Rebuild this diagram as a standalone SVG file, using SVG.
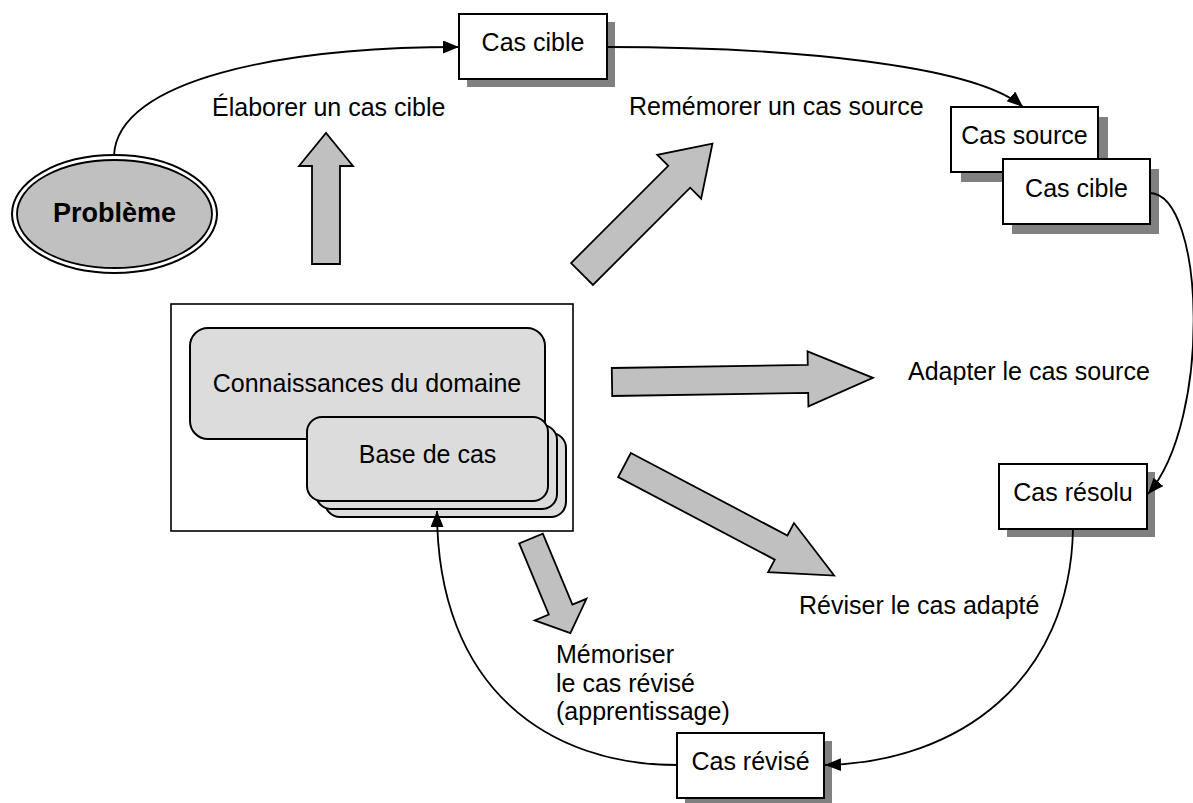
<svg xmlns="http://www.w3.org/2000/svg" width="1193" height="803" viewBox="0 0 1193 803">
  <style>
    text { font-family: "Liberation Sans", Arial, sans-serif; font-size: 25px; fill: #000; }
    .mid { text-anchor: middle; }
    .box { fill: #fff; stroke: #000; stroke-width: 2; }
    .shadow { fill: #808080; stroke: none; }
    .soft { fill: #dcdcdc; stroke: #000; stroke-width: 2; }
    .block { fill: #c0c0c0; stroke: #000; stroke-width: 1.8; stroke-linejoin: miter; }
    .link { fill: none; stroke: #000; stroke-width: 1.8; marker-end: url(#head); }
  </style>
  <defs>
    <marker id="head" markerUnits="userSpaceOnUse" markerWidth="18" markerHeight="14" refX="16" refY="6.5" orient="auto">
      <path d="M0,0 L16,6.5 L0,13 Z" fill="#000"/>
    </marker>
  </defs>
  <rect width="1193" height="803" fill="#fff"/>

  <!-- starting problem -->
  <g id="probleme">
    <ellipse cx="114.5" cy="214" rx="102.5" ry="59" fill="#fff" stroke="#000" stroke-width="2"/>
    <ellipse cx="114.5" cy="214" rx="97.5" ry="54" fill="#c0c0c0" stroke="#000" stroke-width="1.8"/>
    <text class="mid" x="114.5" y="222" style="font-weight:bold;font-size:27px">Problème</text>
  </g>

  <!-- knowledge container -->
  <g id="connaissances">
    <rect x="171" y="304" width="402" height="227" fill="#fff" stroke="#000" stroke-width="1.6"/>
    <rect class="soft" x="190" y="328" width="355" height="111" rx="18"/>
    <text class="mid" x="367" y="392">Connaissances du domaine</text>
  </g>

  <g id="base-de-cas">
    <rect class="soft" x="325" y="433" width="241" height="84" rx="15"/>
    <rect class="soft" x="316" y="425" width="241" height="84" rx="15"/>
    <rect class="soft" x="307" y="417" width="241" height="84" rx="15"/>
    <text class="mid" x="427.5" y="463">Base de cas</text>
  </g>

  <!-- case boxes -->
  <g id="cas-cible">
    <rect class="shadow" x="467" y="22" width="148" height="65"/>
    <rect class="box" x="459" y="14" width="148" height="65"/>
    <text class="mid" x="533" y="51">Cas cible</text>
  </g>

  <g id="cas-source">
    <rect class="shadow" x="961" y="117" width="147" height="65"/>
    <rect class="box" x="951" y="107" width="147" height="65"/>
    <text class="mid" x="1024.5" y="144">Cas source</text>
  </g>

  <g id="cas-cible-2">
    <rect class="shadow" x="1012" y="169" width="147" height="65"/>
    <rect class="box" x="1003" y="159" width="147" height="65"/>
    <text class="mid" x="1076.5" y="197">Cas cible</text>
  </g>

  <g id="cas-resolu">
    <rect class="shadow" x="1007" y="472" width="148" height="65"/>
    <rect class="box" x="999" y="464" width="148" height="65"/>
    <text class="mid" x="1073" y="501">Cas résolu</text>
  </g>

  <g id="cas-revise">
    <rect class="shadow" x="685" y="741" width="147" height="65"/>
    <rect class="box" x="677" y="733" width="147" height="65"/>
    <text class="mid" x="750.5" y="770">Cas révisé</text>
  </g>

  <!-- block arrows for the reasoning steps -->
  <g id="etapes">
    <polygon class="block" transform="translate(326,264) rotate(-90)" points="0,-14 98,-14 98,-27 131,0 98,27 98,14 0,14"/>
    <polygon class="block" transform="translate(582,274) rotate(-45)" points="0,-15.5 137.5,-15.5 137.5,-31 184.5,0 137.5,31 137.5,15.5 0,15.5"/>
    <polygon class="block" transform="translate(612,382) rotate(-0.9)" points="0,-14 196,-14 196,-27.5 261,0 196,27.5 196,14 0,14"/>
    <polygon class="block" transform="translate(624.5,465) rotate(27.8)" points="0,-13.6 177,-13.6 177,-27.7 237,0 177,27.7 177,13.6 0,13.6"/>
    <polygon class="block" transform="translate(531,538.5) rotate(67.4)" points="0,-12.8 77,-12.8 77,-28 102.5,0 77,28 77,12.8 0,12.8"/>
  </g>

  <!-- step labels -->
  <g id="libelles">
    <text x="212" y="116">Élaborer un cas cible</text>
    <text x="629" y="115">Remémorer un cas source</text>
    <text x="908" y="380">Adapter le cas source</text>
    <text x="799" y="614">Réviser le cas adapté</text>
    <text x="556" y="663">Mémoriser</text>
    <text x="556" y="692">le cas révisé</text>
    <text x="556" y="720">(apprentissage)</text>
  </g>

  <!-- case flow -->
  <g id="connecteurs">
    <path class="link" d="M114,155 C118,80 280,47 459,47"/>
    <path class="link" d="M607,47 C790,47 975,65 1023,107"/>
    <path class="link" d="M1150,193 C1205,195 1212,420 1148,494"/>
    <path class="link" d="M1073,529 C1070,680 960,762 825,765"/>
    <path class="link" d="M677,765 C550,765 437,690 437,511"/>
  </g>
</svg>
